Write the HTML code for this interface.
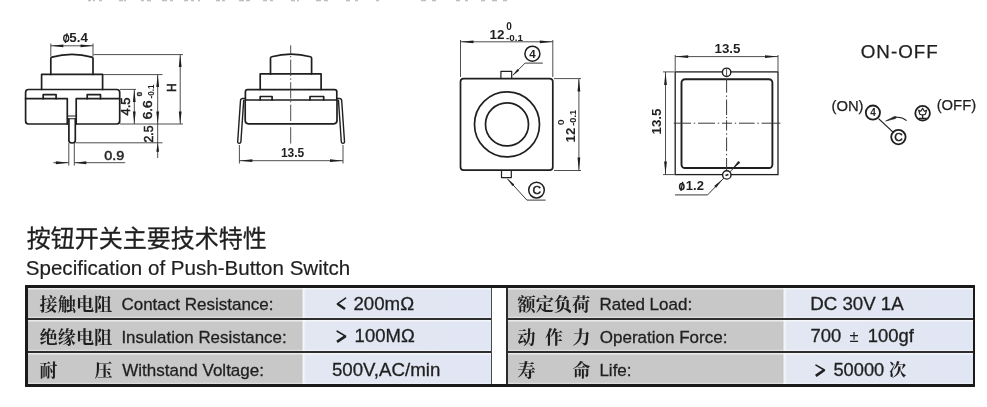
<!DOCTYPE html>
<html><head><meta charset="utf-8"><title>Push-Button Switch</title>
<style>
html,body{margin:0;padding:0;background:#fff;}
body{width:987px;height:407px;overflow:hidden;position:relative;font-family:"Liberation Sans",sans-serif;}
svg{position:absolute;left:0;top:0;}
svg text{font-family:"Liberation Sans",sans-serif;}
.lab{position:absolute;background:#c9c8c8;box-shadow:inset 0 1.6px 0.6px rgba(255,255,255,.62),inset 0 -1.2px 0.6px rgba(255,255,255,.38);}
.val{position:absolute;background:linear-gradient(90deg,#b9b8ba 0,#f4f4fa 2.4px,#e3e7f2 5px,#e1e6f4 100%);box-shadow:inset 0 1.6px 0.6px rgba(255,255,255,.62),inset 0 -1.2px 0.6px rgba(255,255,255,.38);}
.hl{position:absolute;background:#2a2a2a;}
</style></head><body>
<div id="tables">
<div class="lab" style="left:27px;top:287.7px;width:274.4px;height:30.5px"></div>
<div class="val" style="left:301.4px;top:287.7px;width:190.1px;height:30.5px"></div>
<div class="lab" style="left:507px;top:287.7px;width:275.2px;height:30.5px"></div>
<div class="val" style="left:782.2px;top:287.7px;width:191.3px;height:30.5px"></div>
<div class="lab" style="left:27px;top:320.0px;width:274.4px;height:30.7px"></div>
<div class="val" style="left:301.4px;top:320.0px;width:190.1px;height:30.7px"></div>
<div class="lab" style="left:507px;top:320.0px;width:275.2px;height:30.7px"></div>
<div class="val" style="left:782.2px;top:320.0px;width:191.3px;height:30.7px"></div>
<div class="lab" style="left:27px;top:352.6px;width:274.4px;height:31.8px"></div>
<div class="val" style="left:301.4px;top:352.6px;width:190.1px;height:31.8px"></div>
<div class="lab" style="left:507px;top:352.6px;width:275.2px;height:31.8px"></div>
<div class="val" style="left:782.2px;top:352.6px;width:191.3px;height:31.8px"></div>
<div class="hl" style="left:26px;top:318.2px;width:466.3px;height:1.9px;background:#2e2e2e"></div>
<div class="hl" style="left:506px;top:318.2px;width:468px;height:1.9px;background:#2e2e2e"></div>
<div class="hl" style="left:26px;top:350.7px;width:466.3px;height:1.9px;background:#2e2e2e"></div>
<div class="hl" style="left:506px;top:350.7px;width:468px;height:1.9px;background:#2e2e2e"></div>
<div class="hl" style="left:491.3px;top:287px;width:1.2px;height:98px;background:#4a4a4a"></div>
<div class="hl" style="left:506px;top:287px;width:1.7px;height:98px;background:#2b2b2b"></div>
<div class="hl" style="left:25.4px;top:285.4px;width:950px;height:2.4px;background:#1a1a1a"></div>
<div class="hl" style="left:25.4px;top:384.4px;width:950px;height:2.4px;background:#1a1a1a"></div>
<div class="hl" style="left:25.4px;top:285.4px;width:2.5px;height:101.4px;background:#1a1a1a"></div>
<div class="hl" style="left:972.9px;top:285.4px;width:2.5px;height:101.4px;background:#1a1a1a"></div>
</div>
<svg style="will-change:transform" width="987" height="407" viewBox="0 0 987 407">
<g fill="none" stroke="#1f1f1f" stroke-width="1.7" stroke-linejoin="round" stroke-linecap="round">
<path d="M50.8,74.4 L50.8,58.5 Q50.8,57.4 52,57.1 Q72,51.7 91.8,57.1 Q93,57.4 93,58.5 L93,74.4"/>
<path d="M41.6,89.4 L41.6,74.4 L102.6,74.4 L102.6,89.4"/>
<path d="M67.3,124 L28.5,124 Q25.6,124 25.6,121 L25.6,92.4 Q25.6,89.5 28.5,89.5 L116.8,89.5 Q119.7,89.5 119.7,92.4 L119.7,121 Q119.7,124 116.8,124 L76.2,124"/>
<path d="M25.6,98.7 L67.3,98.7 L67.3,124 M119.7,98.7 L76.2,98.7 L76.2,124"/>
<path d="M43.2,98.7 L43.2,94.7 L56.1,94.7 L56.1,98.7 M87.2,98.7 L87.2,94.7 L100.5,94.7 L100.5,98.7"/>
<path d="M67.3,116 L76.2,116 M67.3,118.8 L76.2,118.8" stroke-width="1.1"/>
<path d="M68.9,119 L68.9,140.6 Q68.9,143 72.1,143 Q75.3,143 75.3,140.6 L75.3,119"/>
</g>
<line x1="50.8" y1="43.5" x2="50.8" y2="56.5" stroke="#3a3a3a" stroke-width="0.9" />
<line x1="93" y1="43.5" x2="93" y2="56.5" stroke="#3a3a3a" stroke-width="0.9" />
<line x1="50.8" y1="45.8" x2="93" y2="45.8" stroke="#3a3a3a" stroke-width="0.9" />
<polygon points="50.8,45.8 63.3,44.4 63.3,47.2" fill="#1f1f1f"/>
<polygon points="93.0,45.8 80.5,47.2 80.5,44.4" fill="#1f1f1f"/>
<ellipse cx="66.2" cy="38.2" rx="2.5" ry="3.4" fill="none" stroke="#1f1f1f" stroke-width="1.3"/>
<line x1="67.10000000000001" y1="33.2" x2="65.3" y2="43.0" stroke="#1f1f1f" stroke-width="1.105"/>
<text textLength="18.62" lengthAdjust="spacingAndGlyphs" transform="translate(69.3,41.5)" font-size="13.4" text-anchor="start" font-weight="bold" fill="#1f1f1f" >5.4</text>
<line x1="93.5" y1="54.6" x2="183" y2="54.6" stroke="#3a3a3a" stroke-width="0.9" />
<line x1="103" y1="74.6" x2="162.5" y2="74.6" stroke="#3a3a3a" stroke-width="0.9" />
<line x1="120" y1="89.4" x2="136" y2="89.4" stroke="#3a3a3a" stroke-width="0.9" />
<line x1="120" y1="124" x2="183" y2="124" stroke="#3a3a3a" stroke-width="0.9" />
<line x1="75.5" y1="142.8" x2="162.5" y2="142.8" stroke="#3a3a3a" stroke-width="0.9" />
<line x1="180.2" y1="54.6" x2="180.2" y2="124" stroke="#3a3a3a" stroke-width="0.9" />
<polygon points="180.2,54.6 181.6,67.1 178.8,67.1" fill="#1f1f1f"/>
<polygon points="180.2,124.0 178.8,111.5 181.6,111.5" fill="#1f1f1f"/>
<line x1="157.7" y1="74.6" x2="157.7" y2="158" stroke="#3a3a3a" stroke-width="0.9" />
<polygon points="157.7,74.6 159.1,87.1 156.3,87.1" fill="#1f1f1f"/>
<polygon points="157.7,124.0 156.3,111.5 159.1,111.5" fill="#1f1f1f"/>
<polygon points="157.7,142.8 159.1,151.8 156.3,151.8" fill="#1f1f1f"/>
<line x1="134.3" y1="89.4" x2="134.3" y2="124" stroke="#3a3a3a" stroke-width="0.9" />
<polygon points="134.3,89.4 135.7,101.9 132.9,101.9" fill="#1f1f1f"/>
<polygon points="134.3,124.0 132.9,111.5 135.7,111.5" fill="#1f1f1f"/>
<text textLength="8.67" lengthAdjust="spacingAndGlyphs" transform="translate(176.3,87.6) rotate(-90)" font-size="12" text-anchor="middle" font-weight="normal" fill="#1f1f1f" stroke="#1f1f1f" stroke-width="0.55" >H</text>
<text textLength="16.66" lengthAdjust="spacingAndGlyphs" transform="translate(130,106.5) rotate(-90) scale(1.08,1)" font-size="12" text-anchor="middle" font-weight="normal" fill="#1f1f1f" stroke="#1f1f1f" stroke-width="0.55" >4.5</text>
<text textLength="16.67" lengthAdjust="spacingAndGlyphs" transform="translate(151.6,109.9) rotate(-90) scale(1.12,1)" font-size="12" text-anchor="middle" font-weight="normal" fill="#1f1f1f" stroke="#1f1f1f" stroke-width="0.55" >6.6</text>
<text textLength="3.55" lengthAdjust="spacingAndGlyphs" transform="translate(142.2,94.1) rotate(-90) scale(1.2,1)" font-size="6.4" text-anchor="middle" font-weight="bold" fill="#1f1f1f" stroke="#1f1f1f" stroke-width="0.3" >0</text>
<text textLength="14.11" lengthAdjust="spacingAndGlyphs" transform="translate(154.0,91.5) rotate(-90)" font-size="8.2" text-anchor="middle" font-weight="bold" fill="#1f1f1f" >-0.1</text>
<text textLength="17.11" lengthAdjust="spacingAndGlyphs" transform="translate(153.4,134) rotate(-90)" font-size="12.3" text-anchor="middle" font-weight="normal" fill="#1f1f1f" stroke="#1f1f1f" stroke-width="0.55" >2.5</text>
<text textLength="18.77" lengthAdjust="spacingAndGlyphs" transform="translate(114.2,160.1) scale(1.06,1)" font-size="13.5" text-anchor="middle" font-weight="normal" fill="#1f1f1f" stroke="#1f1f1f" stroke-width="0.5" >0.9</text>
<line x1="68.8" y1="143" x2="68.8" y2="165.6" stroke="#3a3a3a" stroke-width="0.9" />
<line x1="74.3" y1="143" x2="74.3" y2="165.6" stroke="#3a3a3a" stroke-width="0.9" />
<line x1="53.3" y1="162.7" x2="68.8" y2="162.7" stroke="#3a3a3a" stroke-width="0.9" />
<line x1="74.3" y1="162.7" x2="125.2" y2="162.7" stroke="#3a3a3a" stroke-width="0.9" />
<polygon points="68.8,162.7 55.8,164.2 55.8,161.2" fill="#1f1f1f"/>
<polygon points="74.3,162.7 86.3,161.2 86.3,164.2" fill="#1f1f1f"/>
<g fill="none" stroke="#1f1f1f" stroke-width="1.7" stroke-linejoin="round" stroke-linecap="round">
<path d="M270.5,73.9 L270.5,58.2 Q270.5,57.1 271.7,56.8 Q291,51.4 310.4,56.8 Q311.6,57.1 311.6,58.2 L311.6,73.9"/>
<path d="M260.2,89.5 L260.2,73.9 L321.1,73.9 L321.1,89.5"/>
<path d="M245.4,100 L245.4,91.8 Q245.4,89.6 247.6,89.6 L334.6,89.6 Q336.8,89.6 336.8,91.8 L336.8,100"/>
<path d="M245.2,100 L337,100 L337,120.6 Q337,123.8 333.8,123.8 L248.4,123.8 Q245.2,123.8 245.2,120.6 Z"/>
<path d="M260.2,100 L260.2,96.5 L272.1,96.5 L272.1,100 M310,100 L310,96.5 L323.7,96.5 L323.7,100"/>
</g>
<g fill="none" stroke="#1f1f1f" stroke-width="1.4" stroke-linejoin="round" stroke-linecap="round">
<path d="M245.2,98.5 L242.8,98.5 Q240.7,98.5 240.5,100.6 L237.7,141.6 Q237.6,143.3 239.2,143.3 Q240.7,143.3 240.9,141.8 L243.7,100.5"/>
<path d="M337,98.5 L339.4,98.5 Q341.5,98.5 341.7,100.6 L344.5,141.6 Q344.6,143.3 343,143.3 Q341.5,143.3 341.3,141.8 L338.5,100.5"/>
</g>
<line x1="290.7" y1="45.4" x2="290.7" y2="144" stroke="#3a3a3a" stroke-width="0.9" stroke-dasharray="16.3 2.4 1.4 2.4" stroke-dashoffset="8.2"/>
<line x1="239.4" y1="145" x2="239.4" y2="163.5" stroke="#3a3a3a" stroke-width="0.9" />
<line x1="343" y1="145" x2="343" y2="163.5" stroke="#3a3a3a" stroke-width="0.9" />
<line x1="239.4" y1="160.7" x2="343" y2="160.7" stroke="#3a3a3a" stroke-width="0.9" />
<polygon points="239.4,160.7 252.4,159.3 252.4,162.1" fill="#1f1f1f"/>
<polygon points="343.0,160.7 330.0,162.1 330.0,159.3" fill="#1f1f1f"/>
<text textLength="23.36" lengthAdjust="spacingAndGlyphs" transform="translate(292.6,157.4)" font-size="12" text-anchor="middle" font-weight="bold" fill="#1f1f1f" >13.5</text>
<g fill="none" stroke="#1f1f1f" stroke-width="1.7" stroke-linejoin="round">
<rect x="460.5" y="78.6" width="92.3" height="91.6" rx="3.2"/>
<circle cx="507" cy="124.4" r="32.5"/><circle cx="507" cy="124.4" r="21.5"/>
<path d="M500.9,78.6 L500.9,71.4 L511.7,71.4 L511.7,78.6" stroke-width="1.2"/>
<path d="M501.5,170.2 L501.5,177.6 L511.3,177.6 L511.3,170.2" stroke-width="1.2"/>
</g>
<line x1="460.5" y1="40" x2="460.5" y2="77" stroke="#3a3a3a" stroke-width="0.9" />
<line x1="552.8" y1="40" x2="552.8" y2="77" stroke="#3a3a3a" stroke-width="0.9" />
<line x1="460.5" y1="41.8" x2="552.8" y2="41.8" stroke="#3a3a3a" stroke-width="0.9" />
<polygon points="460.5,41.8 473.5,40.4 473.5,43.2" fill="#1f1f1f"/>
<polygon points="552.8,41.8 539.8,43.2 539.8,40.4" fill="#1f1f1f"/>
<text textLength="14.91" lengthAdjust="spacingAndGlyphs" transform="translate(497,39.1)" font-size="13.4" text-anchor="middle" font-weight="bold" fill="#1f1f1f" >12</text>
<text textLength="5.56" lengthAdjust="spacingAndGlyphs" transform="translate(508.9,29.5)" font-size="10" text-anchor="middle" font-weight="bold" fill="#1f1f1f" >0</text>
<text textLength="16.89" lengthAdjust="spacingAndGlyphs" transform="translate(514.4,40.6)" font-size="9.8" text-anchor="middle" font-weight="bold" fill="#1f1f1f" >-0.1</text>
<line x1="554" y1="78.6" x2="581" y2="78.6" stroke="#3a3a3a" stroke-width="0.9" />
<line x1="554" y1="170.5" x2="581" y2="170.5" stroke="#3a3a3a" stroke-width="0.9" />
<line x1="578.9" y1="78.6" x2="578.9" y2="170.5" stroke="#3a3a3a" stroke-width="0.9" />
<polygon points="578.9,78.6 580.3,91.6 577.5,91.6" fill="#1f1f1f"/>
<polygon points="578.9,170.5 577.5,157.5 580.3,157.5" fill="#1f1f1f"/>
<text textLength="14.67" lengthAdjust="spacingAndGlyphs" transform="translate(574.6,135.1) rotate(-90)" font-size="13.2" text-anchor="middle" font-weight="bold" fill="#1f1f1f" >12</text>
<text textLength="5.34" lengthAdjust="spacingAndGlyphs" transform="translate(564.1,122.2) rotate(-90) scale(1.1,1)" font-size="9.6" text-anchor="middle" font-weight="bold" fill="#1f1f1f" >0</text>
<text textLength="15.84" lengthAdjust="spacingAndGlyphs" transform="translate(576.4,117.8) rotate(-90)" font-size="9.2" text-anchor="middle" font-weight="bold" fill="#1f1f1f" >-0.1</text>
<path d="M512.9,75.2 L525.1,63.1 L542.8,63.1" fill="none" stroke="#3a3a3a" stroke-width="1"/>
<polygon points="512.6,75.5 517.4,69.0 519.1,70.7" fill="#1f1f1f"/>
<circle cx="532.4" cy="53.7" r="7.5" fill="none" stroke="#1f1f1f" stroke-width="1.5"/>
<text textLength="6.41" lengthAdjust="spacingAndGlyphs" transform="translate(532.4,57.8)" font-size="11.5" text-anchor="middle" font-weight="bold" fill="#1f1f1f" >4</text>
<path d="M507.3,178.7 L526.9,200.1 L545.6,200.1" fill="none" stroke="#3a3a3a" stroke-width="1"/>
<polygon points="507.3,178.7 514.3,184.5 512.5,186.1" fill="#1f1f1f"/>
<circle cx="536.5" cy="190.1" r="7.8" fill="none" stroke="#1f1f1f" stroke-width="1.5"/>
<text textLength="8.53" lengthAdjust="spacingAndGlyphs" transform="translate(536.7,194.3)" font-size="11.8" text-anchor="middle" font-weight="normal" fill="#1f1f1f" stroke="#1f1f1f" stroke-width="0.5" >C</text>
<rect x="675.2" y="71.9" width="102.8" height="102.7" fill="none" stroke="#1f1f1f" stroke-width="1.3"/>
<rect x="681.5" y="79.2" width="90.9" height="88.8" rx="3.5" fill="none" stroke="#1f1f1f" stroke-width="1.9"/>
<line x1="673.8" y1="123.2" x2="780.6" y2="123.2" stroke="#3a3a3a" stroke-width="1" stroke-dasharray="17.2 2.8 1.4 2.8 17 2.8 1.4 2.8 10 2.8 1.4 2.8 15.6 2.8 1.4 2.8 18.8"/>
<line x1="726.6" y1="78.9" x2="726.6" y2="170" stroke="#3a3a3a" stroke-width="1" stroke-dasharray="13.8 2.8 1.4 2.7 15.4 1.9 1.4 1.9 10.3 2.8 1.4 2.7 13.8 2.7 1.4 2.7 12"/>
<path d="M739.6,161.8 L707.6,194.9 L675,194.9" fill="none" stroke="#3a3a3a" stroke-width="1"/>
<polygon points="731.6,169.8 738.3,161.0 740.2,162.8" fill="#1f1f1f"/>
<polygon points="722.8,179.0 716.1,187.8 714.2,186.0" fill="#1f1f1f"/>
<circle cx="726.6" cy="72.3" r="4.2" fill="#fff" stroke="#1f1f1f" stroke-width="1.4"/>
<circle cx="726.8" cy="174.9" r="4.2" fill="#fff" stroke="#1f1f1f" stroke-width="1.4"/>
<line x1="726.6" y1="68.8" x2="726.6" y2="75.8" stroke="#3a3a3a" stroke-width="0.9" />
<line x1="725.5" y1="175.6" x2="728.4" y2="174.4" stroke="#1f1f1f" stroke-width="1.6" />
<line x1="675.2" y1="55" x2="675.2" y2="71" stroke="#3a3a3a" stroke-width="0.9" />
<line x1="778" y1="55" x2="778" y2="71" stroke="#3a3a3a" stroke-width="0.9" />
<line x1="675.2" y1="56.6" x2="778" y2="56.6" stroke="#3a3a3a" stroke-width="0.9" />
<polygon points="675.2,56.6 688.2,55.2 688.2,58.0" fill="#1f1f1f"/>
<polygon points="778.0,56.6 765.0,58.0 765.0,55.2" fill="#1f1f1f"/>
<text textLength="25.89" lengthAdjust="spacingAndGlyphs" transform="translate(727.5,53.2)" font-size="13.3" text-anchor="middle" font-weight="bold" fill="#1f1f1f" >13.5</text>
<line x1="663" y1="71.9" x2="674.5" y2="71.9" stroke="#3a3a3a" stroke-width="0.9" />
<line x1="663" y1="174.6" x2="674.5" y2="174.6" stroke="#3a3a3a" stroke-width="0.9" />
<line x1="665.5" y1="71.9" x2="665.5" y2="174.6" stroke="#3a3a3a" stroke-width="0.9" />
<polygon points="665.5,71.9 666.9,84.9 664.1,84.9" fill="#1f1f1f"/>
<polygon points="665.5,174.6 664.1,161.6 666.9,161.6" fill="#1f1f1f"/>
<text textLength="25.89" lengthAdjust="spacingAndGlyphs" transform="translate(661,121.5) rotate(-90)" font-size="13.3" text-anchor="middle" font-weight="bold" fill="#1f1f1f" >13.5</text>
<ellipse cx="681.8" cy="186.5" rx="2.2" ry="3.1" fill="none" stroke="#1f1f1f" stroke-width="1.5"/>
<line x1="682.6999999999999" y1="181.8" x2="680.9" y2="191.0" stroke="#1f1f1f" stroke-width="1.275"/>
<text textLength="18.08" lengthAdjust="spacingAndGlyphs" transform="translate(685.8,190.4)" font-size="13" text-anchor="start" font-weight="bold" fill="#1f1f1f" >1.2</text>
<text textLength="77.98" lengthAdjust="spacingAndGlyphs" transform="translate(899.7,58.3)" font-size="18.8" text-anchor="middle" font-weight="normal" fill="#1f1f1f" letter-spacing="1" stroke="#1f1f1f" stroke-width="0.25" >ON-OFF</text>
<text textLength="32.06" lengthAdjust="spacingAndGlyphs" transform="translate(847.5,111.4)" font-size="14.8" text-anchor="middle" font-weight="normal" fill="#1f1f1f" stroke="#1f1f1f" stroke-width="0.25" >(ON)</text>
<text textLength="39.45" lengthAdjust="spacingAndGlyphs" transform="translate(956.4,110)" font-size="14.8" text-anchor="middle" font-weight="normal" fill="#1f1f1f" stroke="#1f1f1f" stroke-width="0.25" >(OFF)</text>
<circle cx="872.9" cy="112.6" r="7.1" fill="none" stroke="#1f1f1f" stroke-width="1.8"/>
<text textLength="5.56" lengthAdjust="spacingAndGlyphs" transform="translate(873.0,116.1)" font-size="10" text-anchor="middle" font-weight="bold" fill="#1f1f1f" >4</text>
<circle cx="898.4" cy="137.1" r="7.2" fill="none" stroke="#1f1f1f" stroke-width="1.8"/>
<text textLength="8.53" lengthAdjust="spacingAndGlyphs" transform="translate(898.6,141.3)" font-size="11.8" text-anchor="middle" font-weight="normal" fill="#1f1f1f" stroke="#1f1f1f" stroke-width="0.5" >C</text>
<line x1="878.6" y1="118.6" x2="892.7" y2="131.9" stroke="#1f1f1f" stroke-width="1.3" />
<path d="M885.6,121 L894.6,116.4 L896.4,116.9 L895.4,118.6 Z" fill="#1f1f1f" stroke="#1f1f1f" stroke-width="0.6" stroke-linejoin="round"/>
<path d="M895.4,117.4 Q901.5,116.6 906.6,120.6" fill="none" stroke="#1f1f1f" stroke-width="1.1"/>
<circle cx="922.6" cy="113.2" r="7.3" fill="none" stroke="#1f1f1f" stroke-width="1.8"/>
<path d="M918.8,118.3 L926.5,118.3 M922.6,118 L922.6,115" fill="none" stroke="#1f1f1f" stroke-width="1.3"/>
<path d="M918.6,110.2 L920.8,111.2 L922.6,108.2 L924.4,111.2 L926.6,110.2 L925.4,114.2 Q922.6,115.6 919.8,114.2 Z" fill="none" stroke="#1f1f1f" stroke-width="1.2" stroke-linejoin="round"/>
<rect x="88" y="0" width="3" height="1.3" fill="#8a8a8a" opacity="0.55"/><rect x="93" y="0" width="2" height="1.3" fill="#8a8a8a" opacity="0.55"/><rect x="99" y="0" width="3" height="1.3" fill="#8a8a8a" opacity="0.55"/><rect x="119" y="0" width="4" height="1.3" fill="#8a8a8a" opacity="0.55"/><rect x="124" y="0" width="2" height="1.3" fill="#8a8a8a" opacity="0.55"/><rect x="141" y="0" width="3" height="1.3" fill="#8a8a8a" opacity="0.55"/><rect x="147" y="0" width="4" height="1.3" fill="#8a8a8a" opacity="0.55"/><rect x="162" y="0" width="5" height="1.3" fill="#8a8a8a" opacity="0.55"/><rect x="170" y="0" width="3" height="1.3" fill="#8a8a8a" opacity="0.55"/><rect x="184" y="0" width="4" height="1.3" fill="#8a8a8a" opacity="0.55"/><rect x="191" y="0" width="3" height="1.3" fill="#8a8a8a" opacity="0.55"/><rect x="198" y="0" width="2" height="1.3" fill="#8a8a8a" opacity="0.55"/><rect x="216" y="0" width="4" height="1.3" fill="#8a8a8a" opacity="0.55"/><rect x="222" y="0" width="3" height="1.3" fill="#8a8a8a" opacity="0.55"/><rect x="239" y="0" width="5" height="1.3" fill="#8a8a8a" opacity="0.55"/><rect x="246" y="0" width="4" height="1.3" fill="#8a8a8a" opacity="0.55"/><rect x="263" y="0" width="4" height="1.3" fill="#8a8a8a" opacity="0.55"/><rect x="270" y="0" width="3" height="1.3" fill="#8a8a8a" opacity="0.55"/><rect x="291" y="0" width="4" height="1.3" fill="#8a8a8a" opacity="0.55"/><rect x="297" y="0" width="2" height="1.3" fill="#8a8a8a" opacity="0.55"/><rect x="316" y="0" width="5" height="1.3" fill="#8a8a8a" opacity="0.55"/><rect x="324" y="0" width="4" height="1.3" fill="#8a8a8a" opacity="0.55"/><rect x="346" y="0" width="4" height="1.3" fill="#8a8a8a" opacity="0.55"/><rect x="355" y="0" width="3" height="1.3" fill="#8a8a8a" opacity="0.55"/><rect x="376" y="0" width="3" height="1.3" fill="#8a8a8a" opacity="0.55"/><rect x="421" y="0" width="5" height="1.3" fill="#8a8a8a" opacity="0.55"/><rect x="432" y="0" width="4" height="1.3" fill="#8a8a8a" opacity="0.55"/><rect x="456" y="0" width="4" height="1.3" fill="#8a8a8a" opacity="0.55"/><rect x="465" y="0" width="3" height="1.3" fill="#8a8a8a" opacity="0.55"/><rect x="481" y="0" width="4" height="1.3" fill="#8a8a8a" opacity="0.55"/><rect x="492" y="0" width="5" height="1.3" fill="#8a8a8a" opacity="0.55"/><rect x="503" y="0" width="4" height="1.3" fill="#8a8a8a" opacity="0.55"/>
<text x="26.8" y="246.6" textLength="240" lengthAdjust="spacingAndGlyphs" font-size="24" text-anchor="start" font-weight="normal" fill="#1f1f1f" stroke="#1f1f1f" stroke-width="0.3" style="font-family:'Liberation Sans','Noto Sans CJK SC',sans-serif">按钮开关主要技术特性</text>
<text textLength="324.36" lengthAdjust="spacingAndGlyphs" transform="translate(25.8,274.9)" font-size="20.55" text-anchor="start" font-weight="normal" fill="#1f1f1f" stroke="#1f1f1f" stroke-width="0.2" >Specification of Push-Button Switch</text>
<text x="39.6" y="311.1" textLength="72.6" lengthAdjust="spacingAndGlyphs" font-size="18" text-anchor="start" font-weight="bold" fill="#1f1f1f" style="font-family:'Liberation Serif','Noto Serif CJK SC',serif">接触电阻</text>
<text x="39.6" y="343.7" textLength="72.6" lengthAdjust="spacingAndGlyphs" font-size="18" text-anchor="start" font-weight="bold" fill="#1f1f1f" style="font-family:'Liberation Serif','Noto Serif CJK SC',serif">绝缘电阻</text>
<text x="39.6 94.6" y="376.5" font-size="18" text-anchor="start" font-weight="bold" fill="#1f1f1f" style="font-family:'Liberation Serif','Noto Serif CJK SC',serif">耐压</text>
<text x="517.5" y="311.1" textLength="72.6" lengthAdjust="spacingAndGlyphs" font-size="18" text-anchor="start" font-weight="bold" fill="#1f1f1f" style="font-family:'Liberation Serif','Noto Serif CJK SC',serif">额定负荷</text>
<text x="517.5 545 572.5" y="343.7" font-size="18" text-anchor="start" font-weight="bold" fill="#1f1f1f" style="font-family:'Liberation Serif','Noto Serif CJK SC',serif">动作力</text>
<text x="517.5 572.5" y="376.5" font-size="18" text-anchor="start" font-weight="bold" fill="#1f1f1f" style="font-family:'Liberation Serif','Noto Serif CJK SC',serif">寿命</text>
<text x="888.7" y="376.3" font-size="17.5" text-anchor="start" font-weight="bold" fill="#1f1f1f" style="font-family:'Liberation Serif','Noto Serif CJK SC',serif">次</text>
<text textLength="152.14" lengthAdjust="spacingAndGlyphs" transform="translate(121.4,310.3)" font-size="17.0" text-anchor="start" font-weight="normal" fill="#1f1f1f" stroke="#1f1f1f" stroke-width="0.3" >Contact Resistance:</text>
<text textLength="165.25" lengthAdjust="spacingAndGlyphs" transform="translate(121.4,343.4)" font-size="16.9" text-anchor="start" font-weight="normal" fill="#1f1f1f" stroke="#1f1f1f" stroke-width="0.3" >Insulation Resistance:</text>
<text textLength="141.77" lengthAdjust="spacingAndGlyphs" transform="translate(122.2,376.3)" font-size="17.0" text-anchor="start" font-weight="normal" fill="#1f1f1f" stroke="#1f1f1f" stroke-width="0.3" >Withstand Voltage:</text>
<text textLength="92.64" lengthAdjust="spacingAndGlyphs" transform="translate(599.5,310.3)" font-size="17.0" text-anchor="start" font-weight="normal" fill="#1f1f1f" stroke="#1f1f1f" stroke-width="0.3" >Rated Load:</text>
<text textLength="127.56" lengthAdjust="spacingAndGlyphs" transform="translate(599.8,343.4)" font-size="17.0" text-anchor="start" font-weight="normal" fill="#1f1f1f" stroke="#1f1f1f" stroke-width="0.3" >Operation Force:</text>
<text textLength="32.14" lengthAdjust="spacingAndGlyphs" transform="translate(599.4,376.3)" font-size="17.0" text-anchor="start" font-weight="normal" fill="#1f1f1f" stroke="#1f1f1f" stroke-width="0.3" >Life:</text>
<text textLength="60.72" lengthAdjust="spacingAndGlyphs" transform="translate(353.4,309.5)" font-size="18.7" text-anchor="start" font-weight="normal" fill="#1f1f1f" stroke="#1f1f1f" stroke-width="0.3" >200m&#937;</text>
<text textLength="60.11" lengthAdjust="spacingAndGlyphs" transform="translate(354.6,342.1)" font-size="18.5" text-anchor="start" font-weight="normal" fill="#1f1f1f" stroke="#1f1f1f" stroke-width="0.3" >100M&#937;</text>
<text textLength="108.39" lengthAdjust="spacingAndGlyphs" transform="translate(331.9,375.9)" font-size="18.7" text-anchor="start" font-weight="normal" fill="#1f1f1f" stroke="#1f1f1f" stroke-width="0.3" >500V,AC/min</text>
<text textLength="93.48" lengthAdjust="spacingAndGlyphs" transform="translate(810.2,309.5)" font-size="18.7" text-anchor="start" font-weight="normal" fill="#1f1f1f" stroke="#1f1f1f" stroke-width="0.3" >DC 30V 1A</text>
<text textLength="30.69" lengthAdjust="spacingAndGlyphs" transform="translate(810.6,342.1)" font-size="18.4" text-anchor="start" font-weight="normal" fill="#1f1f1f" stroke="#1f1f1f" stroke-width="0.3" >700</text>
<text textLength="9.06" lengthAdjust="spacingAndGlyphs" transform="translate(849.6,341.5)" font-size="16.5" text-anchor="start" font-weight="normal" fill="#1f1f1f" >&#177;</text>
<text textLength="46.03" lengthAdjust="spacingAndGlyphs" transform="translate(867.8,342.1)" font-size="18.4" text-anchor="start" font-weight="normal" fill="#1f1f1f" stroke="#1f1f1f" stroke-width="0.3" >100gf</text>
<text textLength="50.84" lengthAdjust="spacingAndGlyphs" transform="translate(833.4,375.9)" font-size="18.3" text-anchor="start" font-weight="normal" fill="#1f1f1f" stroke="#1f1f1f" stroke-width="0.3" >50000</text>
<path d="M345.6,298.1 L337.4,303.8" fill="none" stroke="#1f1f1f" stroke-width="1.6" stroke-linecap="round"/>
<path d="M337.4,303.8 L345.0,309.0" fill="none" stroke="#1f1f1f" stroke-width="2.6" stroke-linecap="butt"/>
<path d="M337.2,331.2 L345.6,336.1" fill="none" stroke="#1f1f1f" stroke-width="1.6" stroke-linecap="round"/>
<path d="M345.6,336.1 L337.0,341.9" fill="none" stroke="#1f1f1f" stroke-width="2.7" stroke-linecap="butt"/>
<path d="M816.0,365.1 L824.4,370.0" fill="none" stroke="#1f1f1f" stroke-width="1.6" stroke-linecap="round"/>
<path d="M824.4,370.0 L815.8,375.8" fill="none" stroke="#1f1f1f" stroke-width="2.7" stroke-linecap="butt"/>
</svg>
</body></html>
